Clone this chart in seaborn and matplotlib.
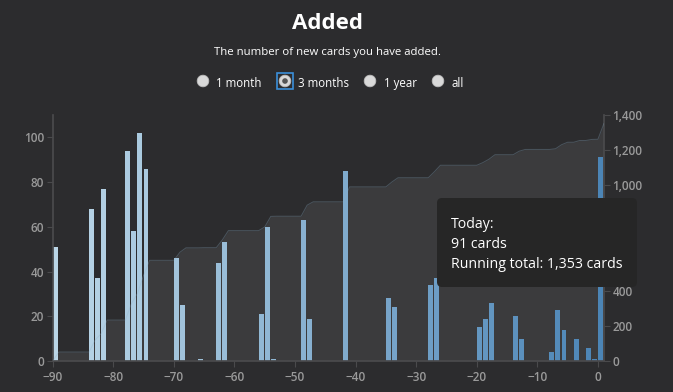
import numpy as np
import pandas as pd
import matplotlib
matplotlib.use("Agg")
import matplotlib.pyplot as plt
from matplotlib.patches import Circle, FancyBboxPatch, Rectangle
from matplotlib.ticker import FuncFormatter
import seaborn as sns

# ── data ─────────────────────────────────────────────────────────────────────
days_added = [-90, -84, -83, -82, -78, -77, -76, -75, -70, -69, -66, -63, -62,
              -56, -55, -54, -49, -48, -42, -35, -34, -28, -27, -20, -19, -18,
              -14, -13, -8, -7, -6, -4, -2, -1, 0]
cards_added = [51, 68, 37, 77, 94, 58, 102, 86, 46, 25, 1, 44, 53,
               21, 60, 1, 63, 19, 85, 28, 24, 34, 37, 15, 19, 26,
               20, 10, 4, 23, 14, 10, 6, 1, 91]
x_ticks = [-90, -80, -70, -60, -50, -40, -30, -20, -10, 0]
left_ticks = [0, 20, 40, 60, 80, 100]
right_ticks = [0, 200, 400, 600, 800, 1000, 1200, 1400]
ranges = ["1 month", "3 months", "1 year", "all"]
tooltip_lines = ["Today:", "91 cards", "Running total: 1,353 cards"]

BG = "#2c2c2e"
AREA = "#3b3b3d"
TICK = "#9a9a9a"
SPINE = "#4a4a4c"

sns.set_theme(style="dark")
plt.rcParams["font.family"] = ["Open Sans", "DejaVu Sans"]

df = pd.DataFrame({"day": days_added, "cards": cards_added})
df["pos"] = df["day"] + 0.4

# running total at each day boundary
full = pd.DataFrame({"day": np.arange(-90, 1)}).merge(df, on="day", how="left").fillna(0)
edge_x = np.concatenate([[-90], full["day"].values + 1])
edge_y = np.concatenate([[0], full["cards"].cumsum().values])

cols = sns.blend_palette(["#b4d8ee", "#3a86c8"], n_colors=91)
pal = {d: cols[d + 90] for d in days_added}

fig = plt.figure(figsize=(6.73, 3.92), dpi=100, facecolor=BG)
ax = fig.add_axes([52.7 / 673, 1 - 361 / 392, (604 - 52.7) / 673, (361 - 115) / 392])
ax2 = ax.twinx()
ax3 = ax.twinx()

# area behind bars
ax2.fill_between(edge_x, edge_y, color=AREA, linewidth=0)
ax2.set_ylim(0, 1400)
ax2.set_facecolor(BG)

sns.barplot(data=df, x="pos", y="cards", hue="day", palette=pal, native_scale=True,
            dodge=False, legend=False, errorbar=None, width=0.82, linewidth=0, ax=ax)
ax.set_xlim(-90, 1)
ax.set_ylim(0, 110)

# faint outline of running total over bars
ax3.plot(edge_x, edge_y, color="#8fb0c8", lw=0.7, alpha=0.3)
ax3.set_ylim(0, 1400)

ax2.set_zorder(1)
ax.set_zorder(2)
ax3.set_zorder(3)
ax.patch.set_visible(False)
ax3.patch.set_visible(False)
ax3.set_yticks([])
ax3.axis("off")

ax.set_xticks(x_ticks)
ax.set_xticklabels([f"\u2212{abs(t)}" if t < 0 else str(t) for t in x_ticks])
ax.set_yticks(left_ticks)
ax2.set_yticks(right_ticks)
ax2.yaxis.set_major_formatter(FuncFormatter(lambda v, p: f"{v:,.0f}"))
ax.set_xlabel("")
ax.set_ylabel("")

for a in (ax, ax2):
    a.tick_params(colors=SPINE, labelcolor=TICK, labelsize=8.5, length=4, width=0.8,
                  pad=2, direction="out")
    for lab in a.get_xticklabels() + a.get_yticklabels():
        lab.set_fontweight("semibold")
    a.grid(False)
    for s in a.spines.values():
        s.set_visible(False)
ax.tick_params(axis="x", bottom=True, pad=3)
ax.spines["left"].set_visible(True)
ax.spines["left"].set_color(SPINE)
ax.spines["bottom"].set_visible(True)
ax.spines["bottom"].set_color(SPINE)
ax2.spines["right"].set_visible(True)
ax2.spines["right"].set_color(SPINE)

# ── header, range selector and tooltip (pixel overlay) ────────────────────────
ov = fig.add_axes([0, 0, 1, 1], zorder=10)
ov.set_xlim(0, 673)
ov.set_ylim(392, 0)
ov.axis("off")
ov.patch.set_visible(False)

ov.text(327.5, 23, "Added", color="white", fontsize=16, fontweight="bold",
        ha="center", va="center")
ov.text(327, 52, "The number of new cards you have added.", color="white",
        fontsize=8.2, ha="center", va="center")

radio_x = [203, 285, 370, 438]
for i, (cx, lab) in enumerate(zip(radio_x, ranges)):
    ov.add_patch(Circle((cx, 81), 5.8, facecolor="#d9d9d9", edgecolor="#bcbcbc", lw=0.6))
    if i == 1:
        ov.add_patch(Circle((cx, 81), 2.8, facecolor="#555555", lw=0))
        ov.add_patch(Rectangle((cx - 8, 73), 16, 16, fill=False, edgecolor="#3b8fd9", lw=1.2))
    ov.text(cx + 13.5, 83, lab, color="white", fontsize=8.3, ha="left", va="center")

ov.add_patch(FancyBboxPatch((440, 201), 194, 83, boxstyle="round,pad=3,rounding_size=5",
                            facecolor="#262626", edgecolor="none"))
for j, line in enumerate(tooltip_lines):
    ov.text(451, 224 + 20 * j, line, color="white", fontsize=10.2, ha="left", va="center")

fig.savefig("out.png", dpi=100, facecolor=BG)
